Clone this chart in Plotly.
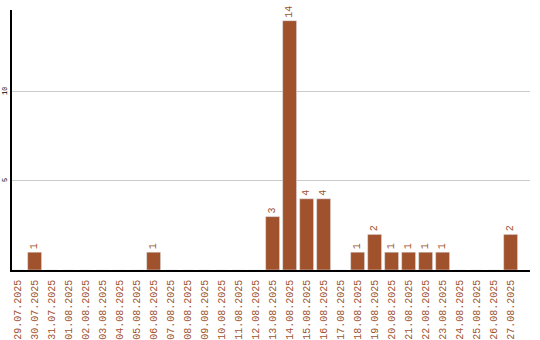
import plotly.graph_objects as go

dates = ["29.07.2025", "30.07.2025", "31.07.2025", "01.08.2025", "02.08.2025", "03.08.2025",
         "04.08.2025", "05.08.2025", "06.08.2025", "07.08.2025", "08.08.2025", "09.08.2025",
         "10.08.2025", "11.08.2025", "12.08.2025", "13.08.2025", "14.08.2025", "15.08.2025",
         "16.08.2025", "17.08.2025", "18.08.2025", "19.08.2025", "20.08.2025", "21.08.2025",
         "22.08.2025", "23.08.2025", "24.08.2025", "25.08.2025", "26.08.2025", "27.08.2025"]
counts = [0, 1, 0, 0, 0, 0, 0, 0, 1, 0, 0, 0, 0, 0, 0, 3, 14, 4, 4, 0, 1, 2, 1, 1, 1, 1, 0, 0, 0, 2]
y_ticks = [5, 10]

color = "#a0522d"
labels = [str(v) if v > 0 else "" for v in counts]

fig = go.Figure(go.Bar(
    x=dates, y=counts, marker_color=color, width=0.82,
    text=labels, textposition="outside", textangle=-90,
    textfont=dict(family="Liberation Mono", size=10, color=color),
    cliponaxis=False,
))
fig.update_layout(
    width=540, height=340,
    margin=dict(l=12, r=10, t=10, b=70, autoexpand=False),
    plot_bgcolor="white", paper_bgcolor="white",
    showlegend=False,
    xaxis=dict(type="category", range=[-0.33, 30.14], tickangle=-90, automargin=False,
               tickfont=dict(family="Liberation Mono", size=10, color=color),
               showline=True, linecolor="black", linewidth=1.5, showgrid=False,
               ticks="", ticklabelstandoff=4),
    yaxis=dict(range=[0, 14.6], tickvals=y_ticks, tickangle=-90, automargin=False,
               tickfont=dict(family="Liberation Mono", size=7, color="black"),
               showline=True, linecolor="black", linewidth=1.5, showgrid=True,
               gridcolor="#cccccc", gridwidth=1, zeroline=False, ticks="",
               ticklabelstandoff=0),
)
fig.write_html("out.html")
